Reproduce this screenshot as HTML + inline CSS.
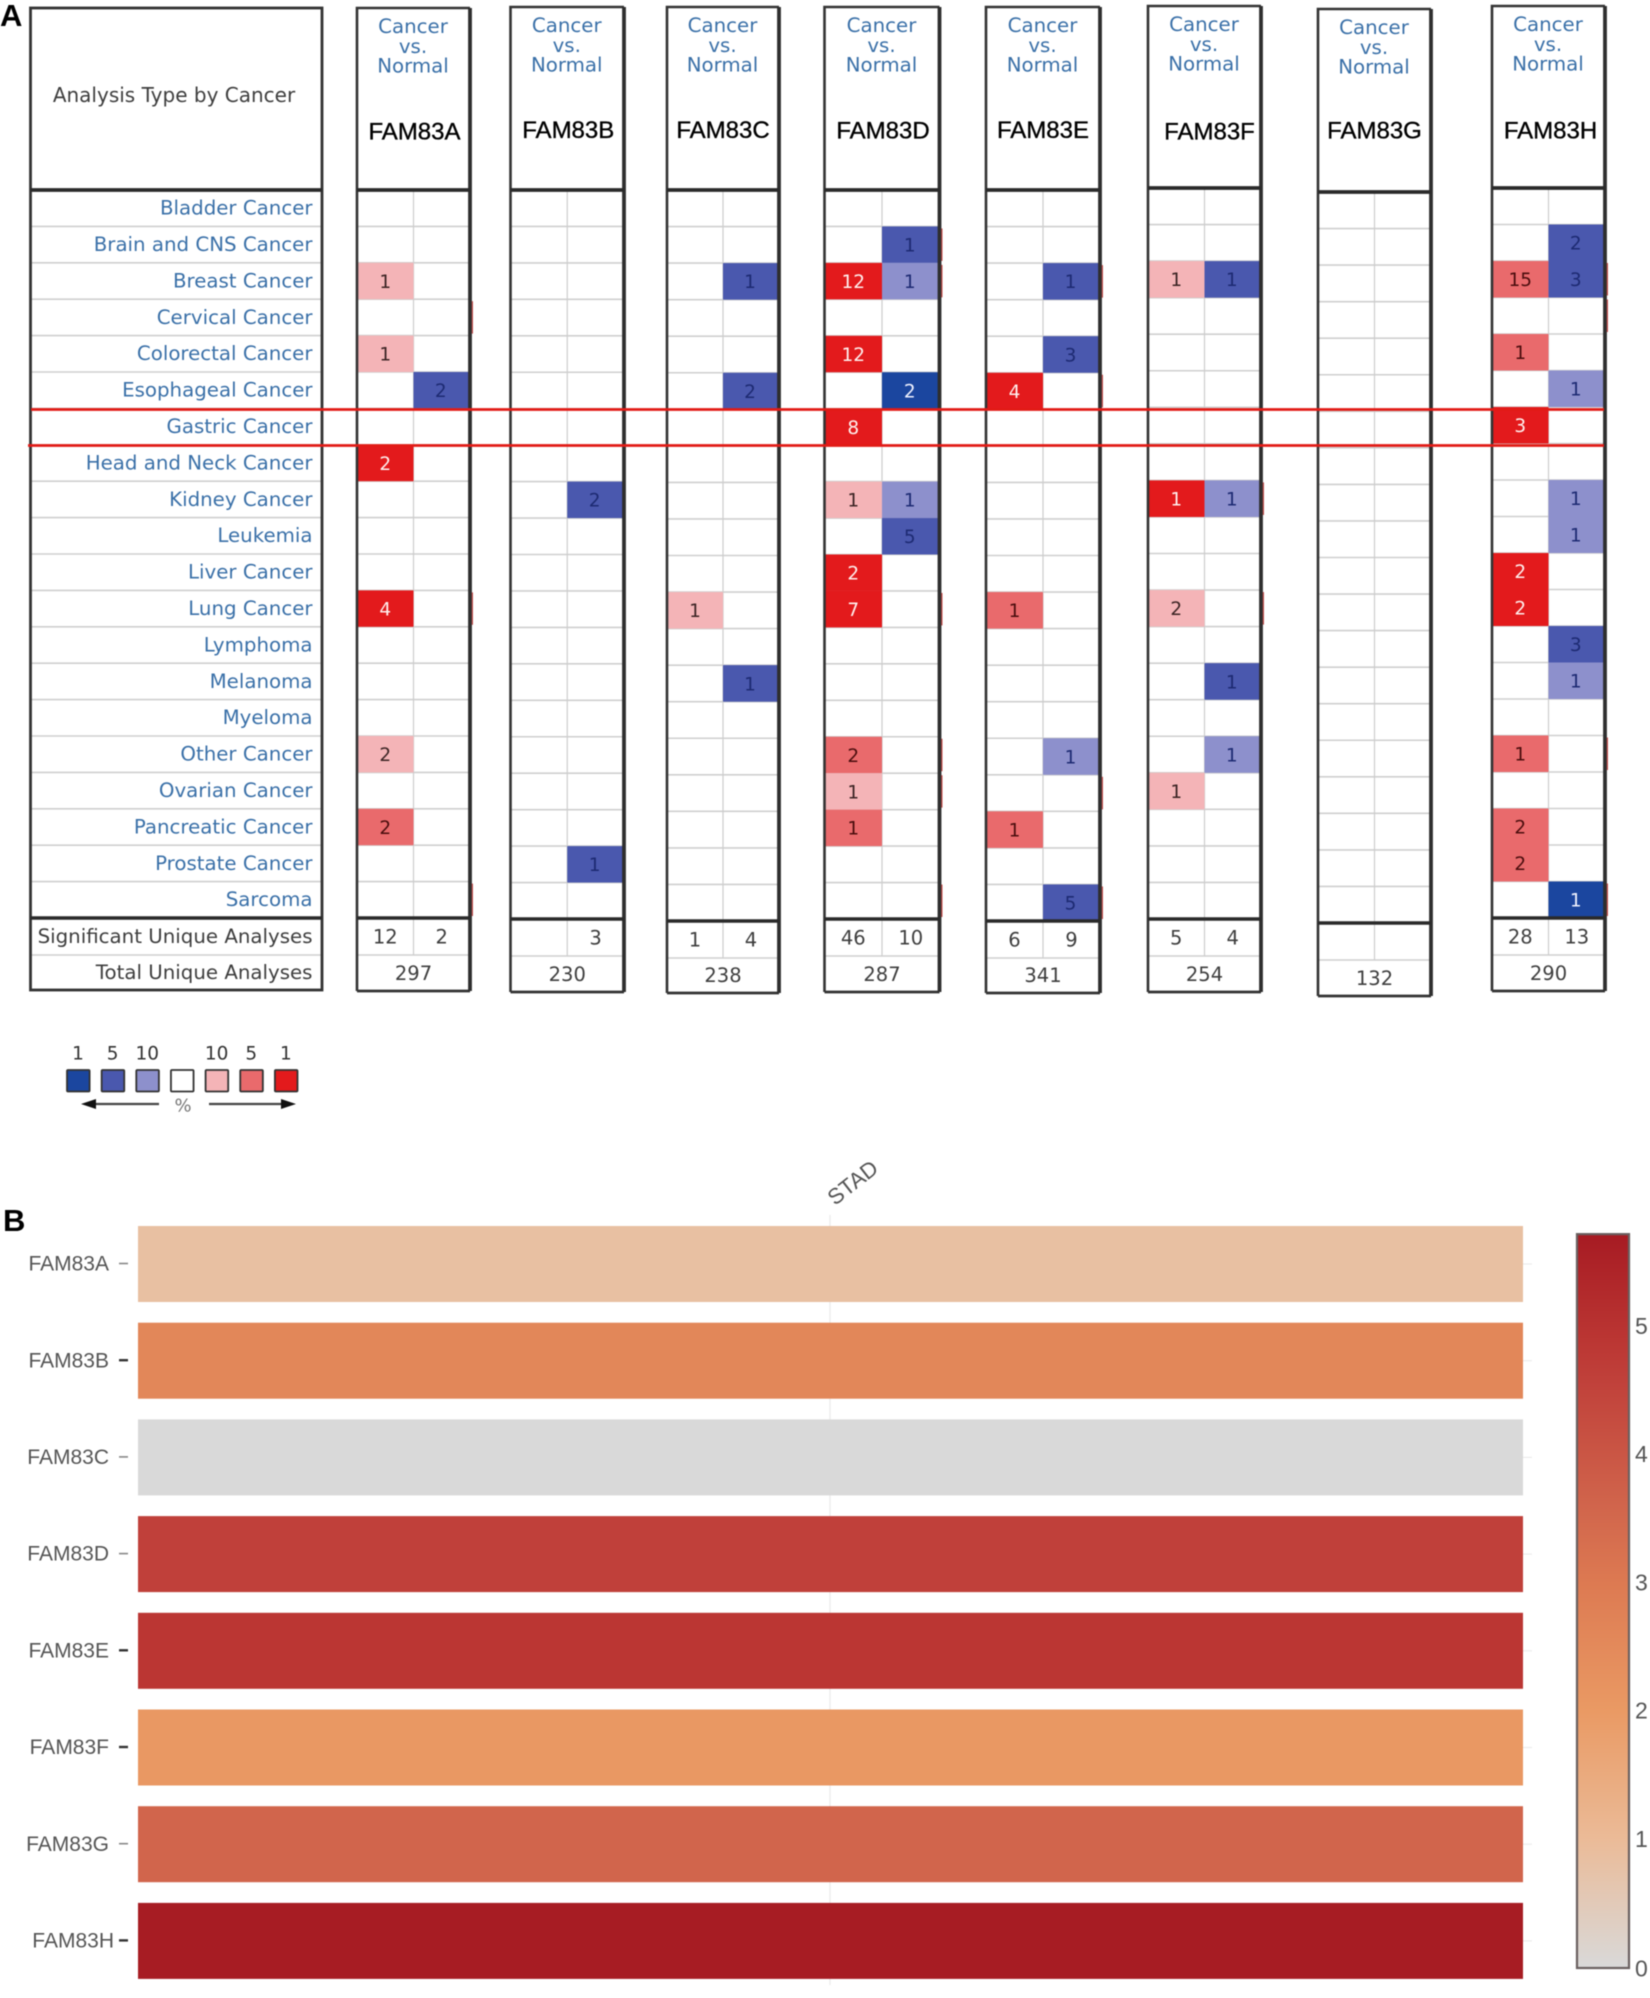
<!DOCTYPE html>
<html lang="en">
<head>
<meta charset="utf-8">
<title>FAM83 family expression across cancers</title>
<style>
html,body{margin:0;padding:0;background:#fff;width:1650px;height:1998px;overflow:hidden}
svg{display:block;filter:blur(0.55px)}
</style>
</head>
<body>
<svg id="figure" xmlns="http://www.w3.org/2000/svg" width="1650" height="1998" viewBox="0 0 1650 1998"></svg>
<script>
// ---------- data : panel A ----------
const geneNames = ['FAM83A','FAM83B','FAM83C','FAM83D','FAM83E','FAM83F','FAM83G','FAM83H'];
const cancerTypes = ['Bladder Cancer','Brain and CNS Cancer','Breast Cancer','Cervical Cancer','Colorectal Cancer','Esophageal Cancer','Gastric Cancer','Head and Neck Cancer','Kidney Cancer','Leukemia','Liver Cancer','Lung Cancer','Lymphoma','Melanoma','Myeloma','Other Cancer','Ovarian Cancer','Pancreatic Cancer','Prostate Cancer','Sarcoma'];
const fam83aCells = [['Breast Cancer','up',1,10],['Colorectal Cancer','up',1,10],['Esophageal Cancer','down',2,5],['Head and Neck Cancer','up',2,1],['Lung Cancer','up',4,1],['Other Cancer','up',2,10],['Pancreatic Cancer','up',2,5]];
const fam83bCells = [['Kidney Cancer','down',2,5],['Prostate Cancer','down',1,5]];
const fam83cCells = [['Breast Cancer','down',1,5],['Esophageal Cancer','down',2,5],['Lung Cancer','up',1,10],['Melanoma','down',1,5]];
const fam83dCells = [['Brain and CNS Cancer','down',1,5],['Breast Cancer','up',12,1],['Breast Cancer','down',1,10],['Colorectal Cancer','up',12,1],['Esophageal Cancer','down',2,1],['Gastric Cancer','up',8,1],['Kidney Cancer','up',1,10],['Kidney Cancer','down',1,10],['Leukemia','down',5,5],['Liver Cancer','up',2,1],['Lung Cancer','up',7,1],['Other Cancer','up',2,5],['Ovarian Cancer','up',1,10],['Pancreatic Cancer','up',1,5]];
const fam83eCells = [['Breast Cancer','down',1,5],['Colorectal Cancer','down',3,5],['Esophageal Cancer','up',4,1],['Lung Cancer','up',1,5],['Other Cancer','down',1,10],['Pancreatic Cancer','up',1,5],['Sarcoma','down',5,5]];
const fam83fCells = [['Breast Cancer','up',1,10],['Breast Cancer','down',1,5],['Kidney Cancer','up',1,1],['Kidney Cancer','down',1,10],['Lung Cancer','up',2,10],['Melanoma','down',1,5],['Other Cancer','down',1,10],['Ovarian Cancer','up',1,10]];
const fam83gCells = [];
const fam83hCells = [['Brain and CNS Cancer','down',2,5],['Breast Cancer','up',15,5],['Breast Cancer','down',3,5],['Colorectal Cancer','up',1,5],['Esophageal Cancer','down',1,10],['Gastric Cancer','up',3,1],['Kidney Cancer','down',1,10],['Leukemia','down',1,10],['Liver Cancer','up',2,1],['Lung Cancer','up',2,1],['Lymphoma','down',3,5],['Melanoma','down',1,10],['Other Cancer','up',1,5],['Pancreatic Cancer','up',2,5],['Prostate Cancer','up',2,5],['Sarcoma','down',1,1]];
const significantUp = [12,null,1,46,6,5,null,28];
const significantDown = [2,3,4,10,9,4,null,13];
const totalAnalyses = [297,230,238,287,341,254,132,290];
const legendDownPct = [1,5,10];
const legendUpPct = [10,5,1];

// Thin red scan artefacts seen on the right border of some columns
const edgeStreakGene = ['FAM83A','FAM83A','FAM83A','FAM83D','FAM83D','FAM83D','FAM83D','FAM83D','FAM83D','FAM83E','FAM83E','FAM83E','FAM83E','FAM83F','FAM83F','FAM83H','FAM83H','FAM83H','FAM83H'];
const edgeStreakRow = ['Cervical Cancer','Lung Cancer','Sarcoma','Brain and CNS Cancer','Breast Cancer','Lung Cancer','Other Cancer','Ovarian Cancer','Sarcoma','Breast Cancer','Esophageal Cancer','Ovarian Cancer','Sarcoma','Kidney Cancer','Lung Cancer','Breast Cancer','Cervical Cancer','Other Cancer','Sarcoma'];

// ---------- data : panel B ----------
const stadGenes = ['FAM83A','FAM83B','FAM83C','FAM83D','FAM83E','FAM83F','FAM83G','FAM83H'];
const stadValues = [0.85,2.6,0,4.6,4.9,2.05,3.6,5.7];
const colorbarTicks = [0,1,2,3,4,5];
const colorbarMax = 5.72;

// ---------- layout (not data) ----------
const columnFrames = [
 {l:357,r:470,top:8,head:190,sum:918,bot:991,titleY:131,titleDx:1},
 {l:510.5,r:624,top:7,head:190,sum:919,bot:992,titleY:129.5,titleDx:1},
 {l:667,r:779,top:7,head:190,sum:921,bot:993,titleY:129.5,titleDx:0},
 {l:824.5,r:939.5,top:7,head:190,sum:919,bot:992,titleY:130,titleDx:1},
 {l:986,r:1100,top:7,head:190,sum:921,bot:993,titleY:129.5,titleDx:0},
 {l:1148,r:1261,top:6,head:188,sum:919,bot:992,titleY:131,titleDx:5},
 {l:1318,r:1431,top:9,head:192,sum:923,bot:996,titleY:130,titleDx:0},
 {l:1492,r:1605,top:6,head:188,sum:918,bot:991,titleY:130,titleDx:2}
];
const redShades = {1:'#e31a1c',5:'#e96a6c',10:'#f4b4b7'};
const blueShades = {1:'#1b469f',5:'#4a58ae',10:'#8d90cc'};
const inkOn = {r1:'#fff0ee',r5:'#4a0d0d',r10:'#3c2424',b1:'#f0f2ff',b5:'#1d2a72',b10:'#1d2a72'};
const BLUE_TEXT = '#3a70a8', INK = '#3e3e3e';
const SANS = '"DejaVu Sans", sans-serif', LIB = '"Liberation Sans", sans-serif';

const svg = document.getElementById('figure');
const NS = 'http://www.w3.org/2000/svg';
function mk(tag, attrs, parent) {
  const el = document.createElementNS(NS, tag);
  for (const k in attrs) el.setAttribute(k, attrs[k]);
  (parent || svg).appendChild(el);
  return el;
}
function txt(str, x, y, size, fill, anchor, family, weight, parent) {
  const el = mk('text', {x:x, y:y + size*0.36, 'font-size':size, fill:fill, 'text-anchor':anchor||'middle', 'font-family':family||SANS, 'font-weight':weight||'normal'}, parent);
  el.textContent = str;
  return el;
}

// ---------- panel letters ----------
const letterA = txt('A', 0, 15, 31, '#000', 'start', LIB, 'bold');


const letterB = txt('B', 3, 1220, 31, '#000', 'start', LIB, 'bold');



// ---------- left label box ----------
const leftBox = {l:30.5,r:322,top:8,head:190,sum:918,bot:990};
const leftG = mk('g', {});


const leftRowH = (leftBox.sum - leftBox.head) / cancerTypes.length;
function rowLine(x1, x2, y, parent, color, w) {
  return mk('line', {x1:x1, x2:x2, y1:y, y2:y, stroke:color||'#cfcfcf', 'stroke-width':w||1.6}, parent);
}
const boxTitle = txt('Analysis Type by Cancer', 174, 95, 20, INK, 'middle', SANS, 'normal', leftG);


cancerTypes.forEach(function (name, i) {
  if (i > 0) rowLine(leftBox.l, leftBox.r, leftBox.head + i*leftRowH, leftG);
  const t = txt(name, 312.5, leftBox.head + (i+0.5)*leftRowH - 0.7, 19.8, BLUE_TEXT, 'end', SANS, 'normal', leftG);
  
  
});
rowLine(leftBox.l, leftBox.r, leftBox.sum + 37, leftG);
const sigLabel = txt('Significant Unique Analyses', 312.5, 936, 19.8, INK, 'end', SANS, 'normal', leftG);


const totLabel = txt('Total Unique Analyses', 312.5, 972, 19.8, INK, 'end', SANS, 'normal', leftG);


mk('rect', {x:leftBox.l, y:leftBox.top, width:leftBox.r-leftBox.l, height:leftBox.bot-leftBox.top, fill:'none', stroke:'#333', 'stroke-width':2.8}, leftG);
rowLine(leftBox.l, leftBox.r, leftBox.head, leftG, '#2a2a2a', 3.8);
rowLine(leftBox.l, leftBox.r, leftBox.sum, leftG, '#2a2a2a', 3.6);

// ---------- gene columns ----------
const geneCells = [fam83aCells,fam83bCells,fam83cCells,fam83dCells,fam83eCells,fam83fCells,fam83gCells,fam83hCells];
function rowY(frame, i) { return frame.head + i * (frame.sum - frame.head) / cancerTypes.length; }
geneNames.forEach(function (gene, c) {
  const f = columnFrames[c];
  const mid = (f.l + f.r) / 2;
  const g = mk('g', {});
  
  
  ['Cancer','vs.','Normal'].forEach(function (w, k) {
    const t = txt(w, mid - 0.5, f.top + 18 + k*19.7, 19.8, BLUE_TEXT, 'middle', SANS, 'normal', g);
    
    
  });
  const title = txt(gene, mid + f.titleDx, f.titleY, 24, '#000', 'middle', LIB, 'normal', g);
  title.setAttribute('stroke', '#000');
  title.setAttribute('stroke-width', '0.35');
  
  
  for (let i = 1; i < cancerTypes.length; i++) {
    rowLine(f.l, f.r, rowY(f, i), g);
  }
  mk('line', {x1:mid, x2:mid, y1:f.head, y2:f.sum + 37, stroke:'#cdcdcd', 'stroke-width':1.2}, g);
  rowLine(f.l, f.r, f.sum + 37, g);
  geneCells[c].forEach(function (cell) {
    const i = cancerTypes.indexOf(cell[0]);
    const isUp = cell[1] === 'up';
    const x = isUp ? f.l + 1 : mid;
    const w = isUp ? mid - f.l - 1 : f.r - mid - 1;
    const y = rowY(f, i);
    const h = (f.sum - f.head) / cancerTypes.length;
    const r = mk('rect', {x:x, y:y, width:w, height:h, fill:(isUp ? redShades : blueShades)[cell[3]]}, g);
    
    
    const key = (isUp ? 'r' : 'b') + cell[3];
    const t = txt(cell[2], x + w/2 - 0.5, y + h/2 + 0.2, 18.5, inkOn[key], 'middle', SANS, 'normal', g);
    
    
  });
  if (significantUp[c] !== null) {
    const t = txt(significantUp[c], (f.l + mid)/2, f.sum + 18.5, 19.5, INK, 'middle', SANS, 'normal', g);
    
    
  }
  if (significantDown[c] !== null) {
    const t = txt(significantDown[c], (f.r + mid)/2, f.sum + 18.5, 19.5, INK, 'middle', SANS, 'normal', g);
    
    
  }
  const tot = txt(totalAnalyses[c], mid, f.bot - 18, 19.5, INK, 'middle', SANS, 'normal', g);
  
  
  mk('path', {d:'M'+f.l+' '+f.bot+'V'+f.top+'H'+f.r, fill:'none', stroke:'#333', 'stroke-width':2.6}, g);
  mk('path', {d:'M'+f.l+' '+f.bot+'H'+f.r, fill:'none', stroke:'#333', 'stroke-width':2.8}, g);
  mk('line', {x1:f.r, x2:f.r, y1:f.top, y2:f.bot, stroke:'#2e2e2e', 'stroke-width':3.8}, g);
  rowLine(f.l, f.r, f.head, g, '#2a2a2a', 3.8);
  rowLine(f.l, f.r, f.sum, g, '#2a2a2a', 3.6);
});

// ---------- right-edge red streaks ----------
edgeStreakGene.forEach(function (gene, k) {
  const f = columnFrames[geneNames.indexOf(gene)];
  const i = cancerTypes.indexOf(edgeStreakRow[k]);
  const streak = mk('line', {x1:f.r + 2.4, x2:f.r + 2.4, y1:rowY(f, i) + 2, y2:rowY(f, i + 1) - 2, stroke:'#b3201c', 'stroke-width':1.2, opacity:0.8});
  
  
});

// ---------- gastric highlight ----------
const hlA = mk('line', {x1:31, x2:1604, y1:409.5, y2:409.5, stroke:'#e21b16', 'stroke-width':2.8});


const hlB = mk('line', {x1:28, x2:1604, y1:445.5, y2:445.5, stroke:'#e21b16', 'stroke-width':2.8});



// ---------- legend ----------
const legendG = mk('g', {});


function legendX(i) { return 66 + i*34.65; }
function swatch(i, fill, label) {
  const s = mk('rect', {x:legendX(i)+1, y:1070, width:22.6, height:21.5, rx:1, fill:fill, stroke:'#333', 'stroke-width':1.8}, legendG);
  
  
  if (label !== null) {
    const t = txt(label, legendX(i)+12, 1053, 18.5, '#333', 'middle', SANS, 'normal', legendG);
    
    
  }
}
legendDownPct.forEach(function (p, i) { swatch(i, blueShades[p], p); });
swatch(3, '#fff', null);
legendUpPct.forEach(function (p, i) { swatch(i + 4, redShades[p], p); });
mk('line', {x1:90, x2:159, y1:1104, y2:1104, stroke:'#444', 'stroke-width':2.2}, legendG);
mk('polygon', {points:'81,1104 96,1099 96,1109', fill:'#111'}, legendG);
mk('line', {x1:209, x2:288, y1:1104, y2:1104, stroke:'#444', 'stroke-width':2.2}, legendG);
mk('polygon', {points:'296,1104 281,1099 281,1109', fill:'#111'}, legendG);
const pct = txt('%', 183, 1105, 18, '#777', 'middle', SANS, 'normal', legendG);



// ---------- panel B : heatmap ----------
const colorStops = [[0,[217,217,217]],[1,[235,187,152]],[2,[234,154,100]],[3,[221,122,82]],[3.6,[209,101,76]],[4.6,[192,64,58]],[4.9,[187,54,51]],[5.72,[167,27,35]]];
function colorScale(v) {
  for (let i = 1; i < colorStops.length; i++) {
    if (v <= colorStops[i][0]) {
      const a = colorStops[i-1], b = colorStops[i];
      const t = Math.max(0, (v - a[0]) / (b[0] - a[0]));
      const m = a[1].map(function (c, k) { return Math.round(c + (b[1][k]-c)*t); });
      return 'rgb(' + m.join(',') + ')';
    }
  }
  return 'rgb(167,27,35)';
}
function yBand(i) { return 1226 + i*96.7; }
const bandH = 76, plotL = 138, plotR = 1523;
function yColorbar(v) { return 1968 - v*128.3; }

const heat = mk('g', {});


mk('line', {x1:830, x2:830, y1:1215, y2:1985, stroke:'#eeeeee', 'stroke-width':1.5}, heat);
stadGenes.forEach(function (gene, i) {
  const y = yBand(i);
  const bar = mk('rect', {x:plotL, y:y, width:plotR-plotL, height:bandH, fill:colorScale(stadValues[i])}, heat);
  
  
  const my = y + bandH/2;
  const dark = i === 1 || i === 4 || i === 5 || i === 7;
  const tk = mk('line', {x1:119, x2:128, y1:my - 0.5, y2:my - 0.5, stroke:dark ? '#333' : '#888', 'stroke-width':dark ? 2.4 : 1.6}, heat);
  
  
  mk('line', {x1:plotR, x2:plotR+9, y1:my, y2:my, stroke:'#ececec', 'stroke-width':1.2}, heat);
  const lab = txt(gene, i === 7 ? 114 : 109, my - 1, 21, '#555', 'end', LIB, 'normal', heat);
  
  
});
const stad = mk('text', {x:853, y:1190, 'font-size':22, fill:'#555', 'text-anchor':'middle', 'font-family':LIB, transform:'rotate(-38 853 1183)'});
stad.textContent = 'STAD';



// ---------- colorbar ----------
const defs = mk('defs', {});
const grad = mk('linearGradient', {id:'cbGrad', x1:0, y1:0, x2:0, y2:1}, defs);
colorStops.forEach(function (s) {
  mk('stop', {offset:(1 - s[0]/colorbarMax), 'stop-color':colorScale(s[0])}, grad);
});
Array.from(grad.children).reverse().forEach(function (n) { grad.appendChild(n); });
const cb = mk('g', {});


const cbTop = yColorbar(colorbarMax), cbBot = yColorbar(0);
const cbRect = mk('rect', {x:1577, y:cbTop, width:52, height:cbBot-cbTop, fill:'url(#cbGrad)', stroke:'#6a6060', 'stroke-width':2.2}, cb);


colorbarTicks.forEach(function (v) {
  const t = txt(v, 1635, yColorbar(v) - (v === 0 ? 0 : 1), 23, '#555', 'start', LIB, 'normal', cb);
  
  
});
</script>
</body>
</html>
